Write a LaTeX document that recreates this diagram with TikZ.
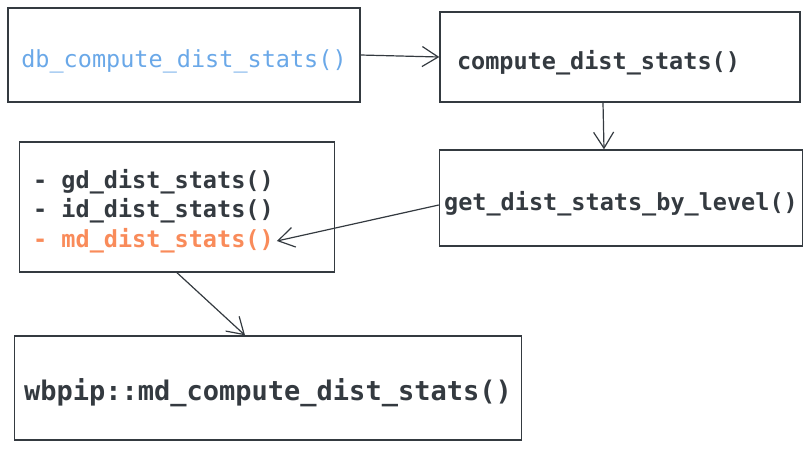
\documentclass[tikz,border=0pt]{standalone}
\usepackage{fontspec}
\newfontfamily\codefont{DejaVu Sans Mono}
\usetikzlibrary{arrows.meta}
\definecolor{ink}{HTML}{343A40}
\definecolor{dbblue}{HTML}{6AA8E8}
\definecolor{mdorange}{HTML}{F98B5A}

\begin{document}
\begin{tikzpicture}[x=1pt, y=-1pt, >={Straight Barb[length=16pt,width=20pt]},
    box/.style={draw=ink, line width=1.4pt, text=ink, inner sep=0pt,
        text height=25pt, text depth=0pt,
        font=\codefont\bfseries\fontsize{23.5}{28}\selectfont},
    code/.style={anchor=west, inner sep=3pt,
        font=\codefont\bfseries\fontsize{23.5}{28}\selectfont},
    link/.style={->, draw=ink, line width=1.2pt}]
\useasboundingbox (0,0) rectangle (811,451);

\node (dbbox) at (184,55)[box, minimum width=352, minimum height=94]
    {\mdseries\color{dbblue}db\_compute\_dist\_stats()};
\node (compbox) at (620,57)[box, minimum width=360, minimum height=90,
    text width=326, align=left]{compute\_dist\_stats()};
\node (levelbox) at (621,198)[box, minimum width=363, minimum height=96]
    {get\_dist\_stats\_by\_level()};
\node (listbox) at (177,207)[box, minimum width=315, minimum height=130]{};
\node (wbbox) at (268,388)[box, minimum width=507, minimum height=104,
    font=\codefont\bfseries\fontsize{27}{32}\selectfont]
    {wbpip::md\_compute\_dist\_stats()};

\foreach \name/\y/\col in {gd/182/ink, id/211/ink, md/241/mdorange}
{
    \node (\name line) at (30,\y)[code, text=\col]{- \name\_dist\_stats()};
}

\draw[link] (dbbox.east) -- (compbox.west);
\draw[link] ([xshift=-17pt]compbox.south) -- ([xshift=-17pt]levelbox.north);
\draw[link] ([yshift=-7pt]levelbox.west) -- (mdline.east);
\draw[link] (listbox.south) -- ([xshift=-23pt]wbbox.north);
\end{tikzpicture}
\end{document}
